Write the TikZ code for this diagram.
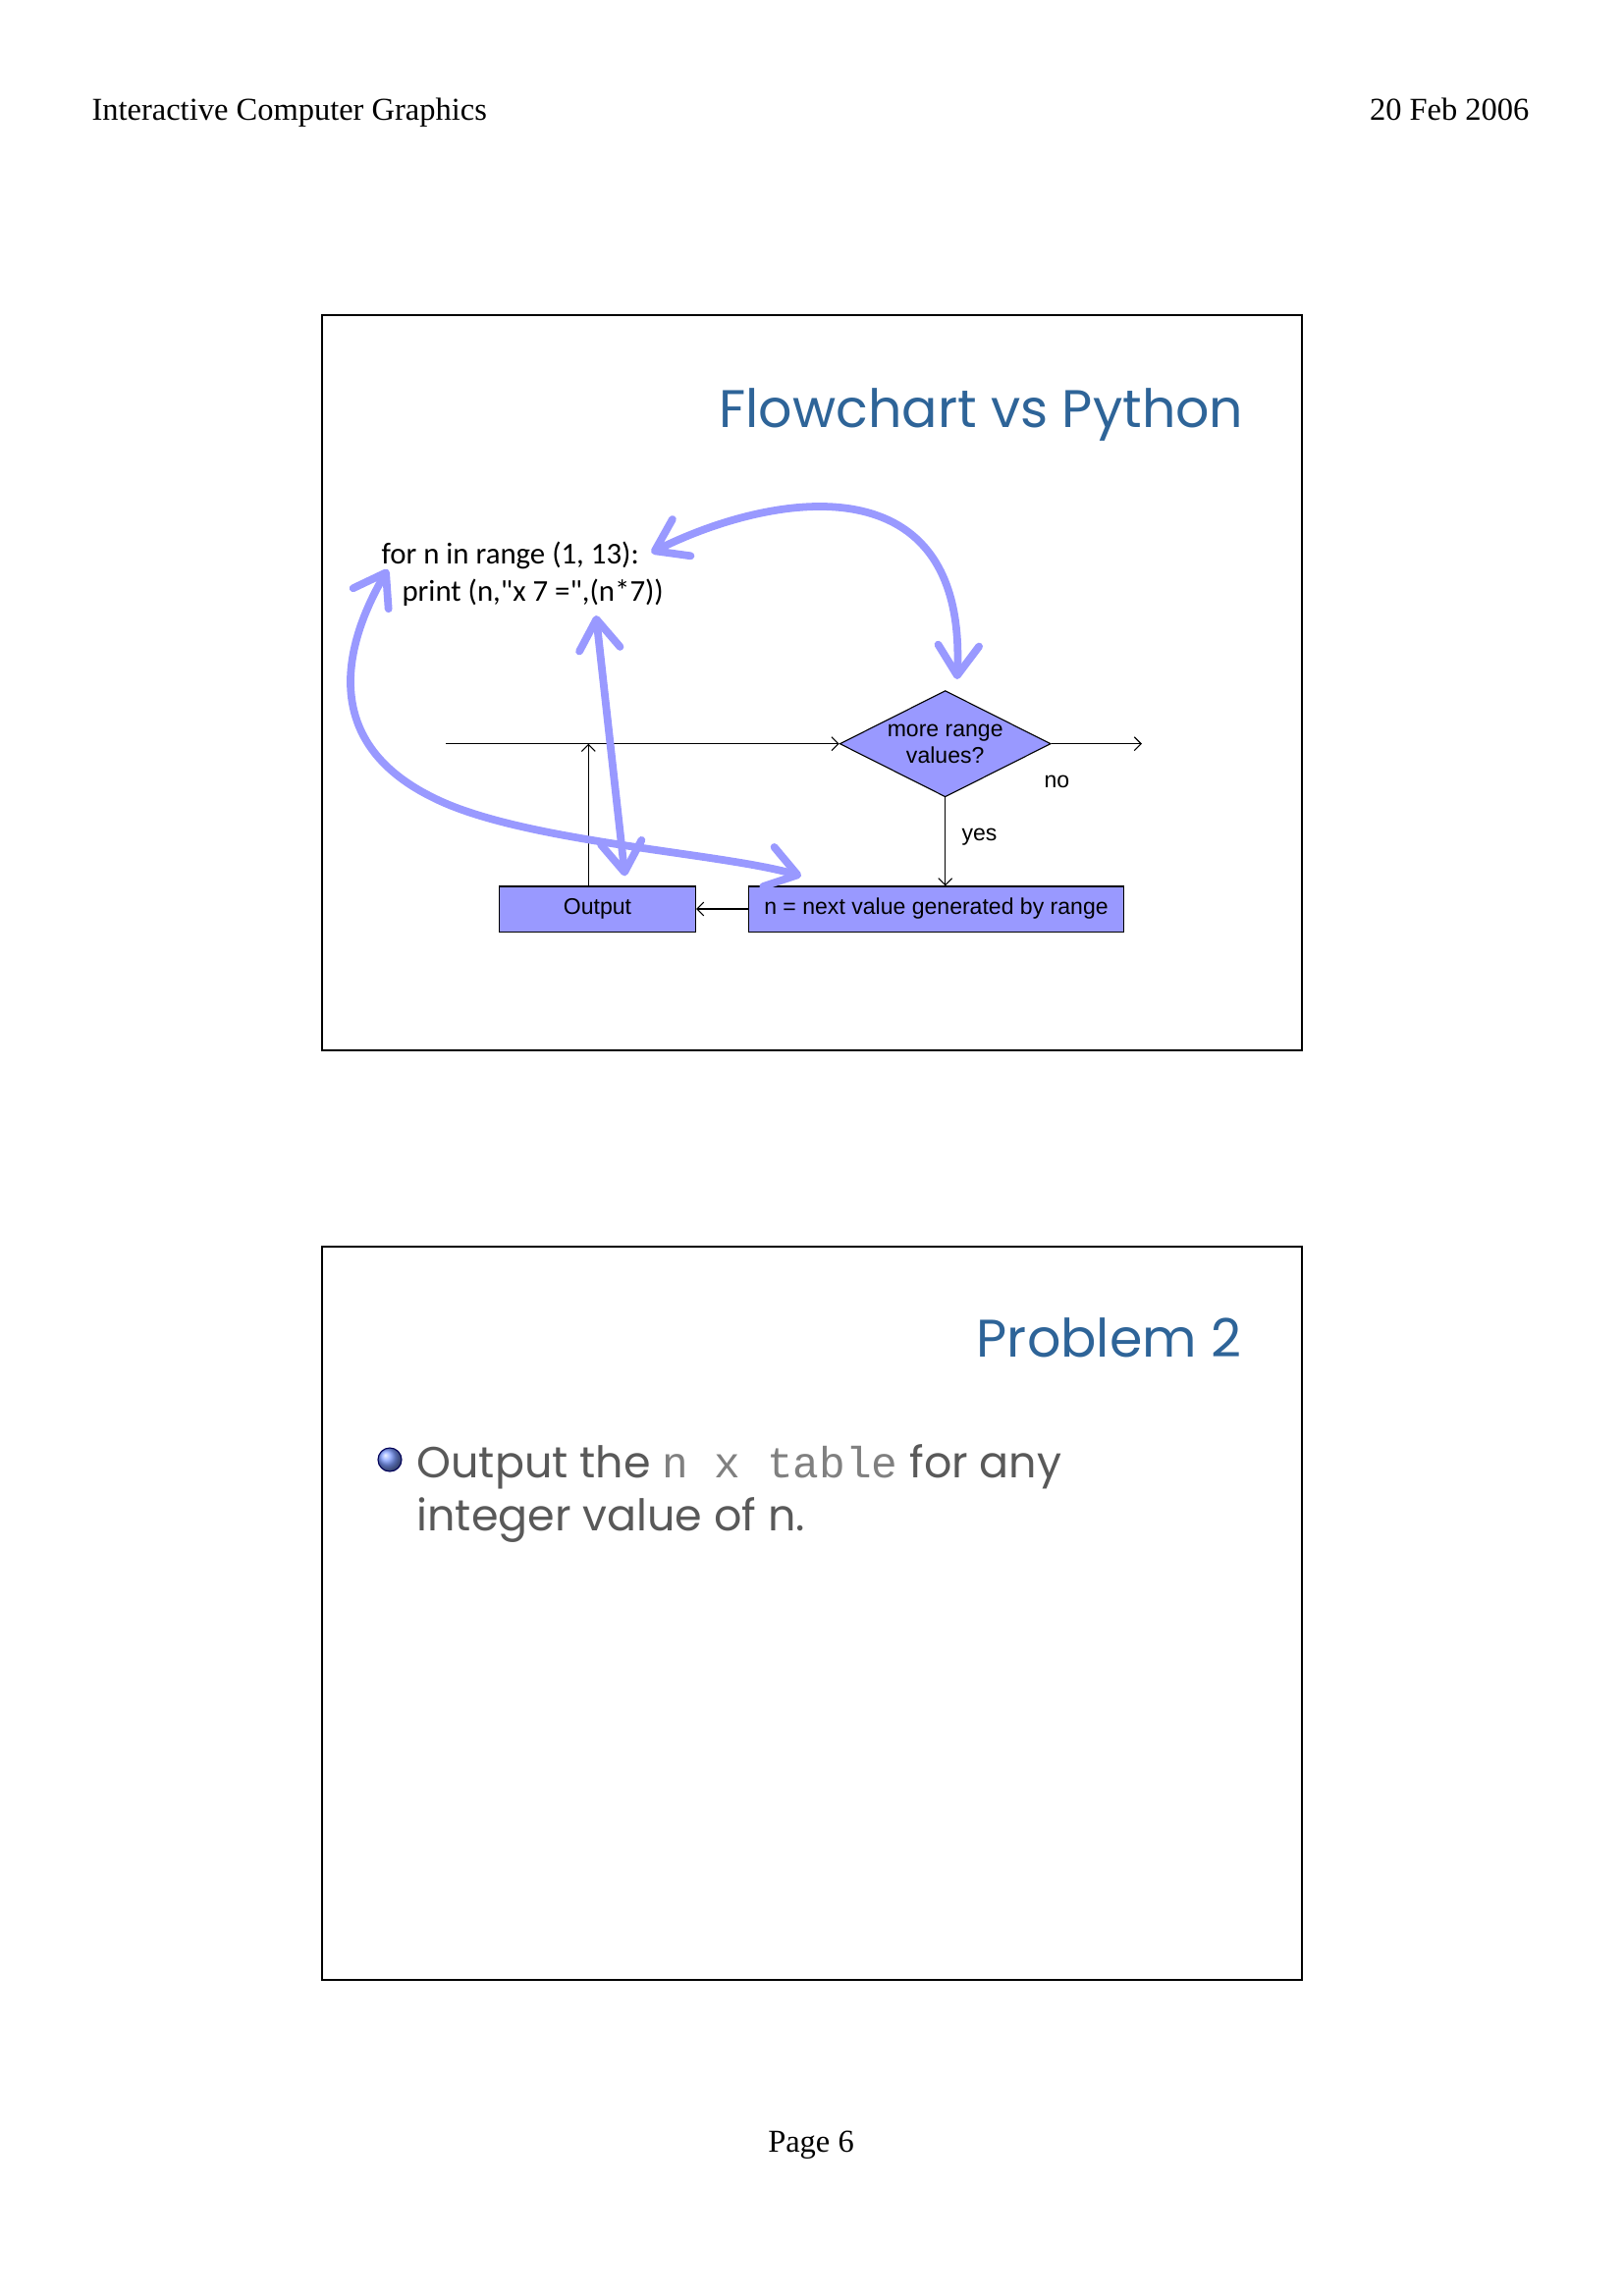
\documentclass[tikz,border=0pt]{standalone}
\usepackage{fontspec}
\setmainfont{Liberation Serif}
\newfontfamily\gothic{Poppins}
\newfontfamily\arialfont{Liberation Sans}
\newfontfamily\calibri{Carlito}
\newfontfamily\courier{Liberation Mono}
\usetikzlibrary{shapes.geometric,arrows.meta,calc,positioning}

\definecolor{titleblue}{RGB}{46,100,152}
\definecolor{boxfill}{RGB}{153,153,255}
\definecolor{bodygray}{RGB}{89,89,89}
\definecolor{ballblue}{RGB}{125,155,255}

\begin{document}
\begin{tikzpicture}[
x=0.360119pt, y=-0.360119pt,
slide/.style={draw=black, line width=0.75pt},
slidetitle/.style={anchor=base east, inner sep=0, text=titleblue, font=\gothic\fontsize{19.4}{23}\selectfont},
pagetext/.style={inner sep=0, font=\fontsize{11.7}{14}\selectfont},
codeline/.style={anchor=base west, inner sep=0, font=\calibri\fontsize{11.1}{13.7}\selectfont},
flowfont/.style={font=\arialfont\fontsize{8.3}{9.7}\selectfont},
flowbox/.style={flowfont, draw=black, line width=0.4pt, fill=boxfill, minimum height=16.6pt, inner sep=0},
decision/.style={flowfont, diamond, aspect=2, draw=black, line width=0.4pt, fill=boxfill,
  minimum width=77.4pt, minimum height=39pt, inner sep=-1.5pt, align=center},
flowlabel/.style={flowfont, anchor=base west, inner sep=0},
flowline/.style={line width=0.4pt, -{Straight Barb[length=2.5pt,width=5pt]}},
hint/.style={draw=boxfill, line width=2.8pt, line cap=round,
  {Straight Barb[round,length=11pt,width=15pt]}-{Straight Barb[round,length=11pt,width=15pt]}},
bodytext/.style={anchor=base west, inner sep=0, text=bodygray, font=\gothic\fontsize{16}{20}\selectfont},
]
\useasboundingbox (0,0) rectangle (1653,2339);

% page header and footer
\node[pagetext, anchor=base west] (course) at (93,122) {Interactive Computer Graphics};
\node[pagetext, anchor=base east] (date) at (1558,122) {20 Feb 2006};
\node[pagetext, anchor=base] (page) at (826,2192) {Page 6};

% slide 1
\draw[slide] (328,321) rectangle (1326,1070);
\node[slidetitle] (title) at (1267,435) {Flowchart vs Python};

\node[codeline] (forline) at (388,574) {for n in range (1, 13):};
\node[codeline] (printline) at (409,612) {print (n,"x 7 =",(n*7))};

% flowchart
\node[decision] (more) at (962.7,757.7) {more range\\values?};
\node[flowbox, minimum width=137.5pt] (nextval) at (953.5,926) {n = next value generated by range};
\node[flowbox, minimum width=72pt] (output) at (608.5,926) {Output};
\coordinate (loopin) at (454,757.7);
\coordinate (join) at (599.3,757.7);
\coordinate (exit) at (1163,757.7);

\draw[flowline] (loopin) -- (more.west);
\draw[flowline] (more.east) -- (exit);
\draw[flowline] (more.south) -- (more.south |- nextval.north);
\draw[flowline] (nextval.west) -- (output.east);
\draw[flowline] (output.north -| join) -- (join);
\node[flowlabel] (nolabel) at (1063,802.7) {no};
\node[flowlabel] (yeslabel) at (979,856.7) {yes};

% links between code and flowchart
\draw[hint] ($(forline.base east)+(12,-11)$) .. controls (790,500) and (985,470) .. ($(more.north)+(12,-11)$);
\draw[hint] ($(forline.base west)+(7,6)$) .. controls (360,640) and (315,750) .. (440,812)
  .. controls (530,858) and (730,868) .. ($(nextval.north west)+(54,-10)$);
\draw[hint] ($(printline.base west)+(198,15)$) -- ($(output.north)+(28,-10)$);

% slide 2
\draw[slide] (328,1270) rectangle (1326,2017);
\node[slidetitle] (title2) at (1265,1382) {Problem 2};
\shade[ball color=ballblue, draw=blue!35!black, line width=0.4pt] (397,1487) circle (12);
\node[bodytext] (pointa) at (424,1505) {Output the {\courier\color{gray}\fontsize{16}{20}\selectfont n x table} for any};
\node[bodytext] (pointb) at (424,1559) {integer value of n.};
\end{tikzpicture}
\end{document}
